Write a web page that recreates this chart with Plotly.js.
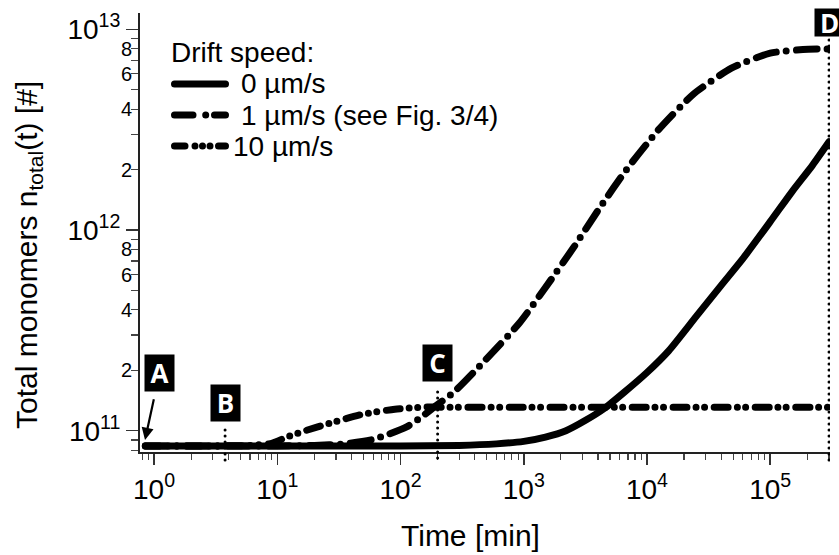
<!DOCTYPE html>
<html>
<head>
<meta charset="utf-8">
<script src="https://cdn.plot.ly/plotly-3.0.1.min.js"></script>
<style>
  html, body { margin: 0; padding: 0; background: #fff; }
  #chart { width: 839px; height: 555px; }
  .scatterlayer path.js-line, .shapelayer path { stroke-linecap: round; stroke-linejoin: round; }
</style>
</head>
<body>
<div id="chart"></div>
<script>
// ---- data ----
const seriesNames = ['0 µm/s', '1 µm/s (see Fig. 3/4)', '10 µm/s'];

const time0 = [0.85, 10, 100, 300, 600, 1000, 1500, 2200, 3200, 4500, 6500, 10000, 15000, 25000, 40000, 60000, 100000, 150000, 220000, 300000];
const n0    = [8.4e10, 8.4e10, 8.4e10, 8.45e10, 8.6e10, 8.85e10, 9.3e10, 1.0e11, 1.13e11, 1.29e11, 1.55e11, 1.95e11, 2.5e11, 3.7e11, 5.3e11, 7.2e11, 1.1e12, 1.55e12, 2.1e12, 2.75e12];

const time1 = [0.85, 10, 20, 35, 60, 112, 153, 196, 269, 468, 929, 1510, 2510, 4140, 6820, 12300, 23700, 48400, 100000, 204000, 300000];
const n1    = [8.4e10, 8.4e10, 8.45e10, 8.6e10, 9.05e10, 1.045e11, 1.19e11, 1.34e11, 1.55e11, 2.19e11, 3.46e11, 5.2e11, 8.1e11, 1.29e12, 2.0e12, 3.14e12, 4.74e12, 6.4e12, 7.6e12, 7.95e12, 7.98e12];

const time10 = [0.85, 3, 6, 9, 12, 16, 28, 50, 90, 150, 250, 1000, 10000, 100000, 300000];
const n10    = [8.4e10, 8.4e10, 8.45e10, 8.65e10, 9.3e10, 9.9e10, 1.1e11, 1.21e11, 1.28e11, 1.31e11, 1.31e11, 1.31e11, 1.31e11, 1.31e11, 1.31e11];

const markerLabels = ['A', 'B', 'C', 'D'];
const markerTimes  = [0.845, 3.77, 200, 300000];
const arrowTipN = 9.0e10;

const xTickVals = [1, 10, 100, 1000, 10000, 100000];
const xTickText = ['10<sup>0</sup>', '10<sup>1</sup>', '10<sup>2</sup>', '10<sup>3</sup>', '10<sup>4</sup>', '10<sup>5</sup>'];
const yTickVals = [1e11, 1e12, 1e13];
const yTickText = ['10<sup>11</sup>', '10<sup>12</sup>', '10<sup>13</sup>'];
const yMinorLabelVals = [2e11, 4e11, 6e11, 8e11, 2e12, 4e12, 6e12, 8e12];
const yMinorLabelText = ['2', '4', '6', '8', '2', '4', '6', '8'];

// ---- geometry helpers ----
const W = 839, H = 555;
const M = {l: 140, r: 9, t: 13, b: 103};
const PW = W - M.l - M.r, PH = H - M.t - M.b;
const px2x = px => (px - M.l) / PW;
const py2y = py => (H - M.b - py) / PH;

function minorVals(lo, hi) {
  const out = [];
  for (let d = lo; d <= hi; d++) for (let k = 2; k <= 9; k++) out.push(k * Math.pow(10, d));
  return out;
}

const FONT = 'Arial, "Liberation Sans", sans-serif';
const lineColor = '#000';
const dashes = ['solid', '21px,10px,0px,10px', '14px,9px,0px,8.5px,0px,9.5px'];
const legendDashes = ['solid', '18.5px,12.7px,0px,8.8px,40px', '10.5px,10px,0px,7.5px,0px,7.5px,0px,8.5px,40px'];

const xs = [time0, time1, time10];
const ys = [n0, n1, n10];
const traces = xs.map((x, i) => ({
  type: 'scatter', mode: 'lines', x: x, y: ys[i], name: seriesNames[i],
  line: {color: lineColor, width: 7, dash: dashes[i], shape: 'spline', smoothing: 0.6},
  showlegend: false, hoverinfo: 'skip'
}));

const shapes = [];
const annotations = [];

// custom legend
const legendRowsY = [84, 115, 146];
const legendTextX = [239, 239, 231];
annotations.push({xref: 'paper', yref: 'paper', x: px2x(169), y: py2y(52), xanchor: 'left', yanchor: 'middle',
  text: 'Drift speed:', showarrow: false, font: {family: FONT, size: 28, color: '#000'}});
seriesNames.forEach((nm, i) => {
  shapes.push({type: 'line', xref: 'paper', yref: 'paper', x0: px2x(174.5), x1: px2x(225.5),
    y0: py2y(legendRowsY[i]), y1: py2y(legendRowsY[i]), line: {color: lineColor, width: 7, dash: legendDashes[i]}});
  annotations.push({xref: 'paper', yref: 'paper', x: px2x(legendTextX[i]), y: py2y(legendRowsY[i]),
    xanchor: 'left', yanchor: 'middle', text: nm, showarrow: false, font: {family: FONT, size: 28, color: '#000'}});
});

// event lines B, C, D
const lineTopsPx = [null, 430, 392, 40];
[1, 2, 3].forEach(i => {
  shapes.push({type: 'line', xref: 'x', yref: 'paper', x0: markerTimes[i], x1: markerTimes[i],
    y0: py2y(lineTopsPx[i]), y1: py2y(463), line: {color: '#000', width: 3, dash: '0px,6px'}});
});

// event labels
const boxStyle = {bgcolor: '#000', font: {family: 'Open Sans, sans-serif', size: 26, color: '#fff'}, borderpad: 0, width: 29};
annotations.push(Object.assign({}, boxStyle, {
  xref: 'x', yref: 'y', x: Math.log10(markerTimes[0]), y: Math.log10(arrowTipN),
  text: '<b>' + markerLabels[0] + '</b>', height: 36,
  showarrow: true, ax: 14.5, ay: -67, arrowhead: 2, arrowsize: 1.1, arrowwidth: 2.2, arrowcolor: '#000', startstandoff: 8
}));
const boxCentersPy = [null, 402.5, 363, 23];
const boxHeights = [36, 36, 36, 27];
[1, 2, 3].forEach(i => {
  annotations.push(Object.assign({}, boxStyle, {
    xref: 'x', yref: 'paper', x: Math.log10(markerTimes[i]), y: py2y(boxCentersPy[i]),
    xanchor: 'center', yanchor: 'middle', text: '<b>' + markerLabels[i] + '</b>', height: boxHeights[i], showarrow: false
  }));
});

// y minor tick labels
yMinorLabelVals.forEach((v, i) => {
  annotations.push({xref: 'paper', yref: 'y', x: px2x(133), y: Math.log10(v), xanchor: 'right', yanchor: 'middle',
    text: yMinorLabelText[i], showarrow: false, font: {family: FONT, size: 20, color: '#000'}, borderpad: 0});
});

// axis titles
annotations.push({xref: 'paper', yref: 'paper', x: px2x(470), y: py2y(535), xanchor: 'center', yanchor: 'middle',
  text: 'Time [min]', showarrow: false, font: {family: FONT, size: 30, color: '#000'}});
annotations.push({xref: 'paper', yref: 'paper', x: px2x(28), y: py2y(255), xanchor: 'center', yanchor: 'middle',
  text: 'Total monomers n<sub>total</sub>(t) [#]', textangle: -90, showarrow: false, font: {family: FONT, size: 30, color: '#000'}});

const layout = {
  width: W, height: H,
  margin: M,
  paper_bgcolor: '#fff', plot_bgcolor: '#fff',
  font: {family: FONT, size: 20, color: '#000'},
  showlegend: false,
  xaxis: {
    type: 'log', range: [-0.114, 5.485], showgrid: false, zeroline: false,
    showline: true, linecolor: '#222', linewidth: 2,
    tickmode: 'array', tickvals: xTickVals, ticktext: xTickText,
    ticks: 'outside', ticklen: 11, tickwidth: 1.5, tickcolor: '#333',
    tickfont: {family: FONT, size: 28, color: '#000'},
    minor: {tickmode: 'array', tickvals: minorVals(-1, 5), ticks: 'outside', ticklen: 6, tickwidth: 1.2, tickcolor: '#444', showgrid: false}
  },
  yaxis: {
    type: 'log', range: [10.894, 13.081], showgrid: false, zeroline: false,
    showline: true, linecolor: '#222', linewidth: 2,
    tickmode: 'array', tickvals: yTickVals, ticktext: yTickText,
    ticks: 'outside', ticklen: 12, tickwidth: 1.5, tickcolor: '#333',
    tickfont: {family: FONT, size: 28, color: '#000'},
    minor: {tickmode: 'array', tickvals: minorVals(10, 12), ticks: 'outside', ticklen: 7, tickwidth: 1.2, tickcolor: '#444', showgrid: false}
  },
  shapes: shapes,
  annotations: annotations
};

Plotly.newPlot('chart', traces, layout, {staticPlot: true, displayModeBar: false});
</script>
</body>
</html>
